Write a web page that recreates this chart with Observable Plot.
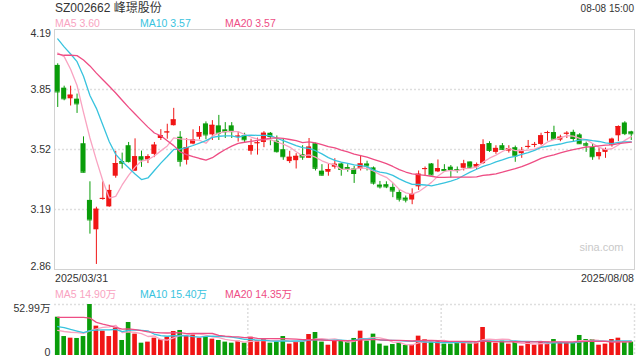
<!DOCTYPE html>
<html><head><meta charset="utf-8">
<script src="https://cdn.jsdelivr.net/npm/d3@7"></script>
<script src="https://cdn.jsdelivr.net/npm/@observablehq/plot@0.6"></script>
<style>
body{margin:0;background:#fff}
#c{position:relative;width:640px;height:360px;overflow:hidden;font-family:Arial,"Liberation Sans","Noto Sans CJK SC",sans-serif;color:#333}
.t{position:absolute;white-space:nowrap;line-height:1}
#c svg{position:absolute;left:0}
</style></head><body><div id="c"></div><script>
// ---- data ----
const title = "SZ002662 峰璟股份";
const stamp = "08-08 15:00";
const dateLabels = ["2025/03/31", "2025/08/08"];
const open = [3.991,3.865,3.806,3.804,3.557,3.243,3.080,3.248,3.207,3.377,3.458,3.546,3.405,3.485,3.467,3.498,3.586,3.618,3.657,3.593,3.465,3.555,3.593,3.667,3.606,3.656,3.634,3.656,3.595,3.601,3.515,3.558,3.564,3.615,3.571,3.524,3.458,3.463,3.496,3.476,3.557,3.405,3.399,3.427,3.445,3.425,3.417,3.417,3.445,3.423,3.328,3.330,3.315,3.287,3.256,3.245,3.318,3.415,3.445,3.401,3.414,3.427,3.414,3.421,3.456,3.427,3.447,3.558,3.509,3.546,3.516,3.535,3.502,3.538,3.549,3.553,3.615,3.619,3.577,3.611,3.620,3.606,3.557,3.536,3.485,3.509,3.549,3.601,3.672,3.623];
const high = [4.000,3.876,3.876,3.832,3.595,3.346,3.205,3.346,3.328,3.515,3.505,3.564,3.584,3.516,3.496,3.564,3.635,3.665,3.753,3.624,3.586,3.634,3.652,3.678,3.685,3.714,3.674,3.674,3.624,3.615,3.582,3.588,3.624,3.619,3.600,3.582,3.515,3.502,3.546,3.586,3.560,3.441,3.443,3.474,3.450,3.441,3.432,3.492,3.460,3.428,3.348,3.346,3.335,3.303,3.267,3.307,3.406,3.428,3.447,3.467,3.441,3.436,3.428,3.465,3.456,3.450,3.579,3.568,3.546,3.558,3.546,3.544,3.536,3.575,3.564,3.615,3.626,3.654,3.604,3.624,3.632,3.613,3.566,3.558,3.535,3.533,3.588,3.656,3.679,3.626];
const low = [3.758,3.795,3.766,3.725,3.395,3.056,2.888,3.244,3.205,3.366,3.417,3.450,3.403,3.426,3.447,3.480,3.575,3.582,3.655,3.428,3.439,3.551,3.579,3.579,3.575,3.575,3.586,3.586,3.566,3.560,3.494,3.494,3.535,3.546,3.505,3.465,3.447,3.417,3.465,3.476,3.406,3.377,3.377,3.416,3.377,3.399,3.337,3.406,3.406,3.328,3.306,3.308,3.258,3.234,3.229,3.219,3.298,3.377,3.381,3.397,3.399,3.366,3.394,3.406,3.414,3.414,3.443,3.509,3.498,3.520,3.505,3.454,3.476,3.527,3.535,3.546,3.571,3.575,3.568,3.586,3.568,3.553,3.509,3.465,3.467,3.476,3.538,3.569,3.602,3.575];
const close = [3.844,3.806,3.826,3.778,3.399,3.135,3.194,3.254,3.298,3.447,3.449,3.458,3.485,3.467,3.485,3.549,3.601,3.622,3.689,3.460,3.535,3.579,3.619,3.606,3.659,3.615,3.623,3.624,3.599,3.579,3.546,3.562,3.615,3.597,3.513,3.485,3.482,3.487,3.483,3.538,3.421,3.383,3.414,3.443,3.414,3.419,3.392,3.445,3.434,3.339,3.318,3.318,3.295,3.250,3.245,3.278,3.388,3.419,3.384,3.419,3.408,3.414,3.410,3.445,3.427,3.441,3.551,3.520,3.531,3.526,3.529,3.489,3.520,3.542,3.553,3.601,3.619,3.582,3.593,3.615,3.586,3.557,3.549,3.485,3.507,3.524,3.582,3.652,3.613,3.612];
// volume, 万 shares
const volume = [39.8,19.7,18.0,17.7,19.7,52.99,30.5,25.3,19.7,28.4,15.6,34.3,22.2,12.8,13.9,18.0,16.3,19.0,24.9,26.0,20.1,22.5,18.0,19.7,17.0,15.6,13.9,12.8,14.9,12.8,19.0,15.6,17.0,12.8,13.9,19.7,11.8,14.2,13.9,21.8,23.9,13.9,10.7,15.6,14.9,14.2,17.7,25.3,14.9,22.2,11.8,9.7,11.4,12.8,10.4,10.7,20.1,16.3,14.2,15.6,11.8,11.8,13.2,14.5,12.8,13.2,29.1,14.9,12.8,14.9,11.8,13.5,9.7,13.5,10.7,14.5,13.9,16.6,13.2,13.2,13.5,20.8,16.6,16.6,10.7,11.8,16.6,18.0,13.9,13.9];
// sessions before 03/31 (not drawn), estimated from where the MA lines start
const preCloses = [3.926,3.826,3.818,3.879,3.795,3.994,3.994,4.018,4.187,4.249,4.25,4.22,4.20,4.21,4.20,3.906,4.176,4.228,4.144];
const preVolumes = [19.7,18.0,17.7,19.7,66.6,120.5,61.3,51.7,64.4,51.6,30,38,35,36,32,25,22,20,23.2];
const priceTickValues = [4.19, 3.8575, 3.525, 3.1925, 2.86];
const priceTickLabels = ["4.19", "3.85", "3.52", "3.19", "2.86"];
const volTickLabels = ["52.99万", "0"];
const maPeriods = [5, 10, 20];
const maNames = ["MA5 3.60", "MA10 3.57", "MA20 3.57"];
const volMaNames = ["MA5 14.90万", "MA10 15.40万", "MA20 14.35万"];

// ---- styles ----
const RED = "#f01515", GREEN = "#0a9d0a";
const MA_COLORS = ["#f9a3c1", "#38c3de", "#ee4d84"];
const FONT = 'Arial,"Liberation Sans","Noto Sans CJK SC",sans-serif';

const N = close.length;
const idx = d3.range(N);
const rows = idx.map(i => ({i, o: open[i], h: high[i], l: low[i], c: close[i], v: volume[i], up: close[i] >= open[i]}));
function movingAvg(pre, arr, k) {
  const all = pre.concat(arr), off = pre.length;
  return arr.map((_, i) => d3.mean(all.slice(off + i - k + 1, off + i + 1)));
}
const priceMA = maPeriods.map(k => movingAvg(preCloses, close, k));
const volMA = maPeriods.map(k => movingAvg(preVolumes, volume, k));

const W = 640, ML = 54, MR = 6;
const bw = (W - ML - MR) / N;
const xOpt = {type: "band", domain: idx, padding: 0, axis: null};
const dotted = {stroke: "#dedede", strokeWidth: 1.5, strokeDasharray: "2,2"};

const lineMarks = (series) => series.map((s, k) =>
  Plot.line(idx, {x: d => d, y: d => s[d], stroke: MA_COLORS[k], strokeWidth: 1.3, curve: "linear"}));

const candleMarks = [true, false].flatMap(up => {
  const col = up ? RED : GREEN;
  const f = d => d.up === up;
  return [
    Plot.ruleX(rows, {filter: f, x: "i", y1: "l", y2: "h", stroke: col, strokeWidth: 1}),
    Plot.barY(rows, {filter: f, x: "i", y1: "o", y2: "c", fill: col, insetLeft: 0.7, insetRight: 0.7}),
    Plot.tickY(rows, {filter: f, x: "i", y: "c", stroke: col, strokeWidth: 1, insetLeft: 0.7, insetRight: 0.7})
  ];
});

const ticks = priceTickValues.map((v, k) => ({v, t: priceTickLabels[k], k}));
const main = Plot.plot({
  width: W, height: 280, marginTop: 29, marginBottom: 11, marginLeft: ML, marginRight: MR,
  x: xOpt,
  y: {domain: [2.86, 4.19], axis: null},
  style: {fontFamily: FONT, background: "transparent", overflow: "visible"},
  marks: [
    Plot.ruleY(ticks.slice(1, -1), {y: "v", ...dotted}),
    Plot.frame({stroke: "#d2d2d2"}),
    Plot.text(["sina.com"], {frameAnchor: "bottom-right", dx: -11, dy: -19, textAnchor: "end", fill: "#c9c9c9", fontSize: 11}),
    ...candleMarks,
    ...lineMarks(priceMA),
    Plot.text(ticks.slice(0, 1), {y: "v", text: "t", frameAnchor: "left", dx: -3.5, textAnchor: "end", lineAnchor: "top", fill: "#333", fontSize: 10.6}),
    Plot.text(ticks.slice(1, -1), {y: "v", text: "t", frameAnchor: "left", dx: -3.5, textAnchor: "end", lineAnchor: "middle", fill: "#333", fontSize: 10.6}),
    Plot.text(ticks.slice(-1), {y: "v", text: "t", frameAnchor: "left", dx: -3.5, textAnchor: "end", lineAnchor: "bottom", fill: "#333", fontSize: 10.6})
  ]
});
main.style.top = "0px";

const vmax = d3.max(volume);
const volBars = [true, false].map(up => Plot.barY(rows, {filter: d => d.up === up, x: "i", y: "v", fill: up ? RED : GREEN, insetLeft: 0.9, insetRight: 0.9}));
const vol = Plot.plot({
  width: W, height: 60, marginTop: 4, marginBottom: 5, marginLeft: ML, marginRight: MR,
  x: xOpt,
  y: {domain: [0, vmax], axis: null},
  style: {fontFamily: FONT, background: "transparent", overflow: "visible"},
  marks: [
    Plot.ruleY([vmax], dotted),
    Plot.ruleX([N / 3, 2 * N / 3], {x: d => d, dx: -bw / 2, ...dotted}),
    Plot.ruleX([N - 1], {x: d => d, dx: bw / 2, ...dotted}),
    ...volBars,
    ...lineMarks(volMA),
    Plot.text([vmax], {y: d => d, text: [volTickLabels[0]], frameAnchor: "left", dx: -4, textAnchor: "end", lineAnchor: "top", fill: "#333", fontSize: 10.6}),
    Plot.text([0], {y: d => d, text: [volTickLabels[1]], frameAnchor: "left", dx: -4, textAnchor: "end", lineAnchor: "bottom", fill: "#333", fontSize: 10.6})
  ]
});
vol.style.top = "300px";

const c = document.getElementById("c");
c.appendChild(main);
c.appendChild(vol);
function txt(s, css) { const d = document.createElement("div"); d.className = "t"; d.textContent = s; Object.assign(d.style, css); c.appendChild(d); }
txt(title, {left: "55px", top: "1.5px", fontSize: "12px", color: "#333"});
txt(stamp, {right: "6px", top: "3.5px", fontSize: "10px", color: "#333"});
const legX = [55, 140, 225];
maNames.forEach((s, k) => txt(s, {left: legX[k] + "px", top: "18.4px", fontSize: "10.5px", color: MA_COLORS[k]}));
volMaNames.forEach((s, k) => txt(s, {left: legX[k] + "px", top: "289px", fontSize: "10.5px", color: MA_COLORS[k]}));
txt(dateLabels[0], {left: "55px", top: "272.5px", fontSize: "10.6px", color: "#333"});
txt(dateLabels[1], {right: "6px", top: "272.5px", fontSize: "10.6px", color: "#333"});
</script></body></html>
